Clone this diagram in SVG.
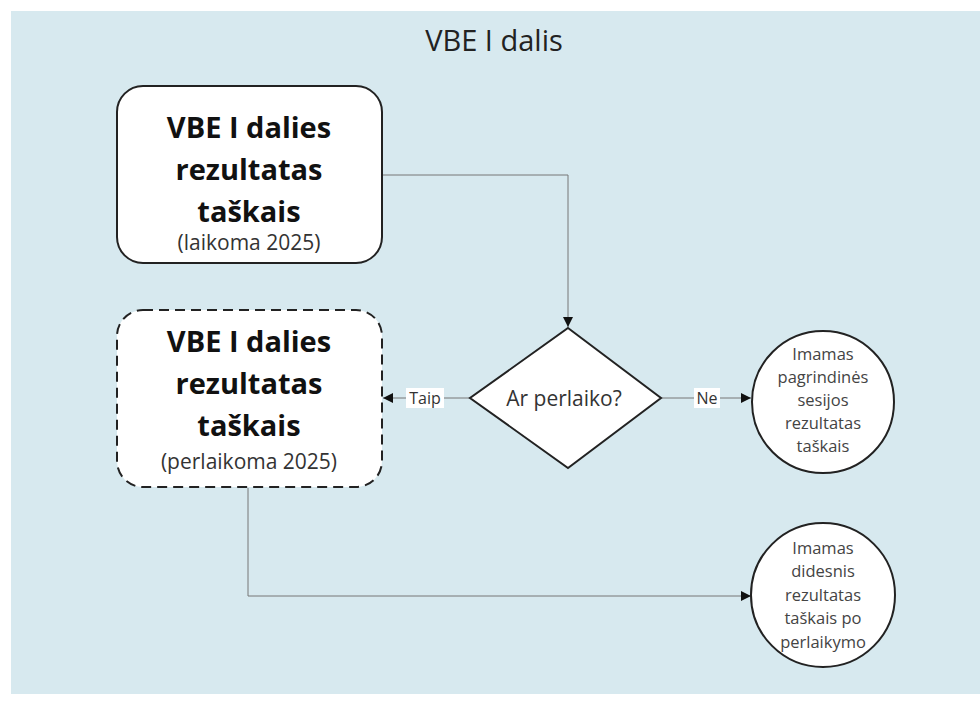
<svg xmlns="http://www.w3.org/2000/svg" width="980" height="702" viewBox="0 0 980 702">
<defs>
<style>
.bold{font-family:"Open Sans","Noto Sans",sans-serif;font-weight:bold;font-size:29px;fill:#111;text-anchor:middle}
.sub{font-family:"Open Sans","Noto Sans",sans-serif;font-size:21px;fill:#333;text-anchor:middle}
.cir{font-family:"Open Sans","Noto Sans",sans-serif;font-size:16.5px;fill:#444;text-anchor:middle}
.lbl{font-family:"Open Sans","Noto Sans",sans-serif;font-size:16px;fill:#333;text-anchor:middle}
.node{fill:#fff;stroke:#222;stroke-width:2}
.conn{fill:none;stroke:#777;stroke-width:1}
</style>
<marker id="arr" viewBox="0 0 10 10" refX="10" refY="5" markerWidth="10" markerHeight="10" markerUnits="userSpaceOnUse" orient="auto">
<path d="M0,0 L10,5 L0,10 z" fill="#111"/>
</marker>
</defs>
<rect width="980" height="702" fill="#fff"/>
<rect x="11" y="11" width="969" height="683" fill="#d7e9ef"/>
<text x="494" y="51" font-family="Open Sans, Noto Sans, sans-serif" font-size="29" fill="#222" text-anchor="middle">VBE I dalis</text>

<g id="connectors">
<polyline class="conn" points="382,175 568,175 568,327" marker-end="url(#arr)"/>
<line class="conn" x1="470" y1="398" x2="383" y2="398" marker-end="url(#arr)"/>
<line class="conn" x1="661" y1="398" x2="751" y2="398" marker-end="url(#arr)"/>
<polyline class="conn" points="248,488 248,596 751,596" marker-end="url(#arr)"/>
<rect x="406" y="388" width="38" height="20" fill="#fff"/>
<text class="lbl" x="425" y="404">Taip</text>
<rect x="694" y="388" width="26" height="20" fill="#fff"/>
<text class="lbl" x="707" y="404">Ne</text>
</g>

<g id="box1">
<rect class="node" x="117" y="86" width="265" height="177" rx="26"/>
<text class="bold" x="249" y="138">VBE I dalies</text>
<text class="bold" x="249" y="180">rezultatas</text>
<text class="bold" x="249" y="222">taškais</text>
<text class="sub" x="249" y="250">(laikoma 2025)</text>
</g>

<g id="box2">
<rect class="node" x="117" y="310" width="265" height="177" rx="26" stroke-dasharray="10,6"/>
<text class="bold" x="249" y="352">VBE I dalies</text>
<text class="bold" x="249" y="394">rezultatas</text>
<text class="bold" x="249" y="436">taškais</text>
<text class="sub" x="249" y="469">(perlaikoma 2025)</text>
</g>

<g id="decision">
<polygon class="node" points="568,328 661,398 568,468 470,398"/>
<text x="564" y="406" font-family="Open Sans, Noto Sans, sans-serif" font-size="21" fill="#333" text-anchor="middle">Ar perlaiko?</text>
</g>

<g id="circle1">
<circle class="node" cx="823" cy="402" r="71"/>
<text class="cir" x="823" y="360">Imamas</text>
<text class="cir" x="823" y="383">pagrindinės</text>
<text class="cir" x="823" y="406">sesijos</text>
<text class="cir" x="823" y="429">rezultatas</text>
<text class="cir" x="823" y="452">taškais</text>
</g>

<g id="circle2">
<circle class="node" cx="823" cy="595" r="72"/>
<text class="cir" x="823" y="554">Imamas</text>
<text class="cir" x="823" y="577">didesnis</text>
<text class="cir" x="823" y="601">rezultatas</text>
<text class="cir" x="823" y="624">taškais po</text>
<text class="cir" x="823" y="648">perlaikymo</text>
</g>
</svg>
